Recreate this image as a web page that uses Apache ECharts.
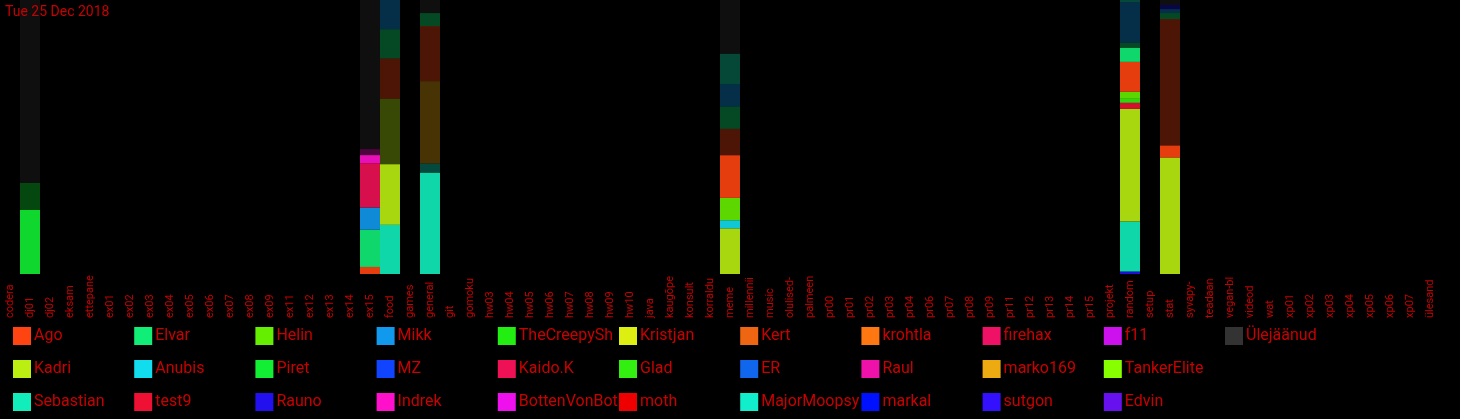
<!DOCTYPE html>
<html>
<head>
<meta charset="utf-8">
<script src="https://cdn.jsdelivr.net/npm/echarts@6/dist/echarts.min.js"></script>
<style>
html,body{margin:0;padding:0;background:#000;}
#chart{width:1460px;height:419px;}
</style>
</head>
<body>
<div id="chart"></div>
<script>
// ---------- data ----------
const titleText = 'Tue 25 Dec 2018';

const categories = ['codera','dj01','dj02','eksam','ettepanek','ex01','ex02','ex03','ex04','ex05','ex06','ex07','ex08','ex09','ex11','ex12','ex13','ex14','ex15','food','games','general','git','gomoku','hw03','hw04','hw05','hw06','hw07','hw08','hw09','hw10','java','kaugõpe','konsult','korraldus','meme','millenniilok','music','olulised-t','palmeeni-','pr00','pr01','pr02','pr03','pr04','pr06','pr07','pr08','pr09','pr11','pr12','pr13','pr14','pr15','projekt','random','setup','stat','syvapy-','teadaandm','vegan-bl','videod','wat','xp01','xp02','xp03','xp04','xp05','xp06','xp07','ülesanded'];

// channels that have activity (order of the value arrays below)
const activeCats = ['dj01','ex15','food','general','meme','random','stat'];

// users, legend order (column by column)
const users = ['Ago','Kadri','Sebastian','Elvar','Anubis','test9','Helin','Piret','Rauno','Mikk','MZ','Indrek','TheCreepySh','Kaido.K','BottenVonBot','Kristjan','Glad','moth','Kert','ER','MajorMoopsy','krohtla','Raul','markal','firehax','marko169','sutgon','f11','TankerElite','Edvin','Ülejäänud'];
const userColors = ['#ff4411','#bbee11','#11eebb','#11ee77','#11ddee','#ee1133','#66ee00','#11ee33','#2211ee','#1199ee','#1144ff','#ff11cc','#22ee11','#ee1155','#ee11ee','#ddee11','#33ee11','#ee0000','#ee6611','#1166ee','#11eecc','#ff7711','#ee11aa','#0011ff','#ee1166','#eeaa11','#3311ff','#cc11ee','#88ff00','#6611ee','#333333'];

// today's share (bright), bottom -> top stacking order
const todayRauno     = [0, 0, 0, 0, 0, 2.5, 0];
const todaySebastian = [0, 0, 49, 101, 0, 50, 0];
const todayKadri     = [0, 0, 60, 0, 45, 113, 116];
const todayAnubis    = [0, 0, 0, 0, 8, 0, 0];
const todayTest9     = [0, 0, 0, 0, 0, 6, 0];
const todayGlad      = [0, 0, 0, 0, 0, 4, 0];
const todayHelin     = [0, 0, 0, 0, 22, 7, 0];
const todayPiret     = [64, 0, 0, 0, 0, 0, 0];
const todayAgo       = [0, 7, 0, 0, 42, 30, 12];
const todayElvar     = [0, 37, 0, 0, 0, 14, 0];
const todayMikk      = [0, 22, 0, 0, 0, 0, 0];
const todayKaidoK    = [0, 44, 0, 0, 0, 0, 0];
const todayIndrek    = [0, 8, 0, 0, 0, 0, 0];

// earlier share (dim), stacked above
const earlierMajorMoopsy = [0, 0, 0, 9, 0, 0, 0];
const earlierKadri       = [0, 0, 65, 0, 0, 0, 0];
const earlierMarko169    = [0, 0, 0, 82, 0, 0, 0];
const earlierPiret       = [27, 0, 0, 0, 0, 0, 0];
const earlierAgo         = [0, 0, 40, 55, 26, 0, 126];
const earlierElvar       = [0, 0, 29, 13, 22, 5, 6];
const earlierMikk        = [0, 0, 29, 0, 22, 41, 4];
const earlierSebastian   = [0, 0, 0, 0, 30, 2, 0];
const earlierRauno       = [0, 0, 0, 0, 0, 0, 4];
const earlierIndrek      = [0, 6, 0, 0, 0, 0, 0];
const earlierRest        = [183, 148, 0, 13, 53, 0, 5];

const todayList = [['Rauno',todayRauno],['Sebastian',todaySebastian],['Kadri',todayKadri],['Anubis',todayAnubis],['test9',todayTest9],['Glad',todayGlad],['Helin',todayHelin],['Piret',todayPiret],['Ago',todayAgo],['Elvar',todayElvar],['Mikk',todayMikk],['Kaido.K',todayKaidoK],['Indrek',todayIndrek]];
const earlierList = [['MajorMoopsy',earlierMajorMoopsy],['Kadri',earlierKadri],['marko169',earlierMarko169],['Piret',earlierPiret],['Ago',earlierAgo],['Elvar',earlierElvar],['Mikk',earlierMikk],['Sebastian',earlierSebastian],['Rauno',earlierRauno],['Indrek',earlierIndrek],['Ülejäänud',earlierRest]];

// ---------- build ----------
const FONT = "Roboto, 'Liberation Sans', sans-serif";
const RED = '#c80000';
const colorOf = n => userColors[users.indexOf(n)];

// per-channel totals for 100% stacking
const totals = activeCats.map((c, i) => {
  let s = 0;
  todayList.concat(earlierList).forEach(([, arr]) => { s += arr[i]; });
  return s;
});
function fullData(arr) {
  return categories.map(c => {
    const i = activeCats.indexOf(c);
    if (i < 0) return 0;
    return arr[i] / totals[i] * 100;
  });
}

const series = [];
const todayMap = {};
todayList.forEach(([n, a]) => { todayMap[n] = a; });
const brightOrder = todayList.map(t => t[0]).concat(users.filter(u => !todayMap[u]));
brightOrder.forEach(n => {
  const arr = todayMap[n] || activeCats.map(() => 0);
  series.push({
    name: n, type: 'bar', stack: 'all', barWidth: '100%',
    data: fullData(arr),
    itemStyle: { color: colorOf(n), opacity: 0.9 },
    emphasis: { disabled: true }, silent: true
  });
});
earlierList.forEach(([n, a]) => {
  series.push({
    name: n + ' (varem)', type: 'bar', stack: 'all', barWidth: '100%',
    data: fullData(a),
    itemStyle: { color: colorOf(n), opacity: 0.3 },
    emphasis: { disabled: true }, silent: true
  });
});

const legends = [];
for (let c = 0; c < 11; c++) {
  legends.push({
    orient: 'vertical', left: 13 + c * 121.2, top: 327,
    itemWidth: 18, itemHeight: 18, itemGap: 15,
    icon: 'rect', selectedMode: false, padding: 0,
    data: users.slice(c * 3, c * 3 + 3),
    itemStyle: { opacity: 1 },
    textStyle: { color: RED, fontSize: 16, fontFamily: FONT, lineHeight: 18, width: 101, overflow: 'truncate', ellipsis: '', padding: [0,0,0,-2] }
  });
}

const chart = echarts.init(document.getElementById('chart'), null, { renderer: 'canvas' });
chart.setOption({
  backgroundColor: '#000',
  animation: false,
  title: { text: titleText, left: 0, top: 0, padding: [5, 5],
    textStyle: { color: RED, fontSize: 14, fontWeight: 'normal', fontFamily: FONT } },
  grid: { left: 0, right: 20, top: 0, bottom: 145, containLabel: false },
  xAxis: {
    type: 'category', data: categories,
    axisLine: { show: false }, axisTick: { show: false }, splitLine: { show: false },
    axisLabel: { interval: 0, rotate: 90, align: 'left', verticalAlign: 'middle', margin: 44,
      color: RED, fontSize: 11, fontFamily: FONT, width: 45, overflow: 'truncate', ellipsis: '' }
  },
  yAxis: { type: 'value', min: 0, max: 100, show: false, splitLine: { show: false } },
  legend: legends,
  series: series
});
</script>
</body>
</html>
